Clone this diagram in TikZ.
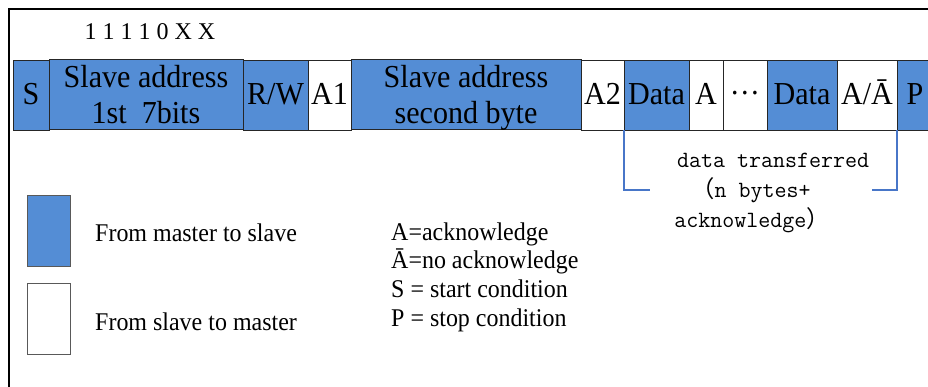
\documentclass[tikz,border=0pt]{standalone}
\usepackage{fontspec}
\setmainfont{Liberation Serif}
\newfontfamily\cellfont[FakeStretch=0.94]{Liberation Serif}
\newfontfamily\cjk{Noto Sans CJK SC}
\definecolor{cellblue}{RGB}{84,141,213}
\definecolor{brk}{RGB}{72,118,200}
\tikzset{
  cell/.style={draw=black!85, line width=0.8pt, inner sep=0pt, outer sep=0pt,
    minimum height=70pt, font=\cellfont\fontsize{32}{36}\selectfont, align=center},
  one/.style={cell, text height=19pt, text depth=0pt},
  two/.style={cell, text depth=0pt},
  bl/.style={fill=cellblue},
  wh/.style={fill=white},
  legbox/.style={draw=black!65, line width=0.8pt, minimum width=43pt, minimum height=71pt, inner sep=0pt},
  legtext/.style={font=\cellfont\fontsize{25.5}{28.7}\selectfont, inner sep=0pt},
  bracket/.style={draw=brk, line width=1.6pt},
  frame/.style={draw=black, line width=2pt}
}
\begin{document}
\begin{tikzpicture}[x=1pt,y=-1pt]
\useasboundingbox (0,0) rectangle (928,387);
\clip (0,0) rectangle (928,387);
\fill[white] (0,0) rectangle (928,387);
% frame
\coordinate (fbl) at (9,400);
\coordinate (ftl) at (9,9);
\coordinate (ftr) at (940,9);
\draw[frame] (fbl) -- (ftl) -- (ftr);
% header bits
\node[font=\fontsize{24}{28}\selectfont, inner sep=0pt] (bits) at (150,32) {1 1 1 1 0 X X};
% bar cells
\node[one, bl, minimum width=36pt] (s) at (31,95) {S};
\node[two, bl, minimum width=194pt] (ad1) at (146,94) {Slave address\\1st\ \ 7bits};
\node[one, bl, minimum width=65pt] (rw) at (275.5,95) {R/W};
\node[one, wh, minimum width=43pt] (a1) at (329.5,95) {A1};
\node[two, bl, minimum width=230pt] (ad2) at (466,94) {Slave address\\second byte};
\node[one, wh, minimum width=43pt] (a2) at (602.5,95) {A2};
\node[one, bl, minimum width=65pt] (d1) at (656.5,95) {Data};
\node[one, wh, minimum width=34pt] (ack) at (706,95) {A};
\node[one, wh, minimum width=44pt] (dots) at (745,95) {\raisebox{10pt}{…}};
\node[one, bl, minimum width=70pt] (d2) at (802,95) {Data};
\node[one, wh, minimum width=60pt] (an) at (867,95) {A/Ā};
\node[one, bl, minimum width=36pt] (p) at (915,95) {P};
% bracket
\draw[bracket] (d1.south west) -- ++(0,60) -- ++(26,0);
\draw[bracket] (an.south east) -- ++(0,60) -- ++(-25,0);
\node[font=\ttfamily\fontsize{23.3}{30}\selectfont, align=center, inner sep=0pt] (dt) at (773,193)
  {data transferred\\{\cjk （}n bytes+\rule{44pt}{0pt}\\acknowledge{\cjk ）}\rule{42pt}{0pt}};
% legend
\node[legbox, fill=cellblue] (lb1) at (48.5,230.5) {};
\node[legbox, fill=white] (lb2) at (48.5,318.5) {};
\node[legtext, anchor=west] (lt1) at (95,233) {From master to slave};
\node[legtext, anchor=west] (lt2) at (95,322) {From slave to master};
\node[legtext, anchor=west, align=left] (abbr) at (391,277)
  {A=acknowledge\\Ā=no acknowledge\\S = start condition\\P = stop condition};
\end{tikzpicture}
\end{document}
